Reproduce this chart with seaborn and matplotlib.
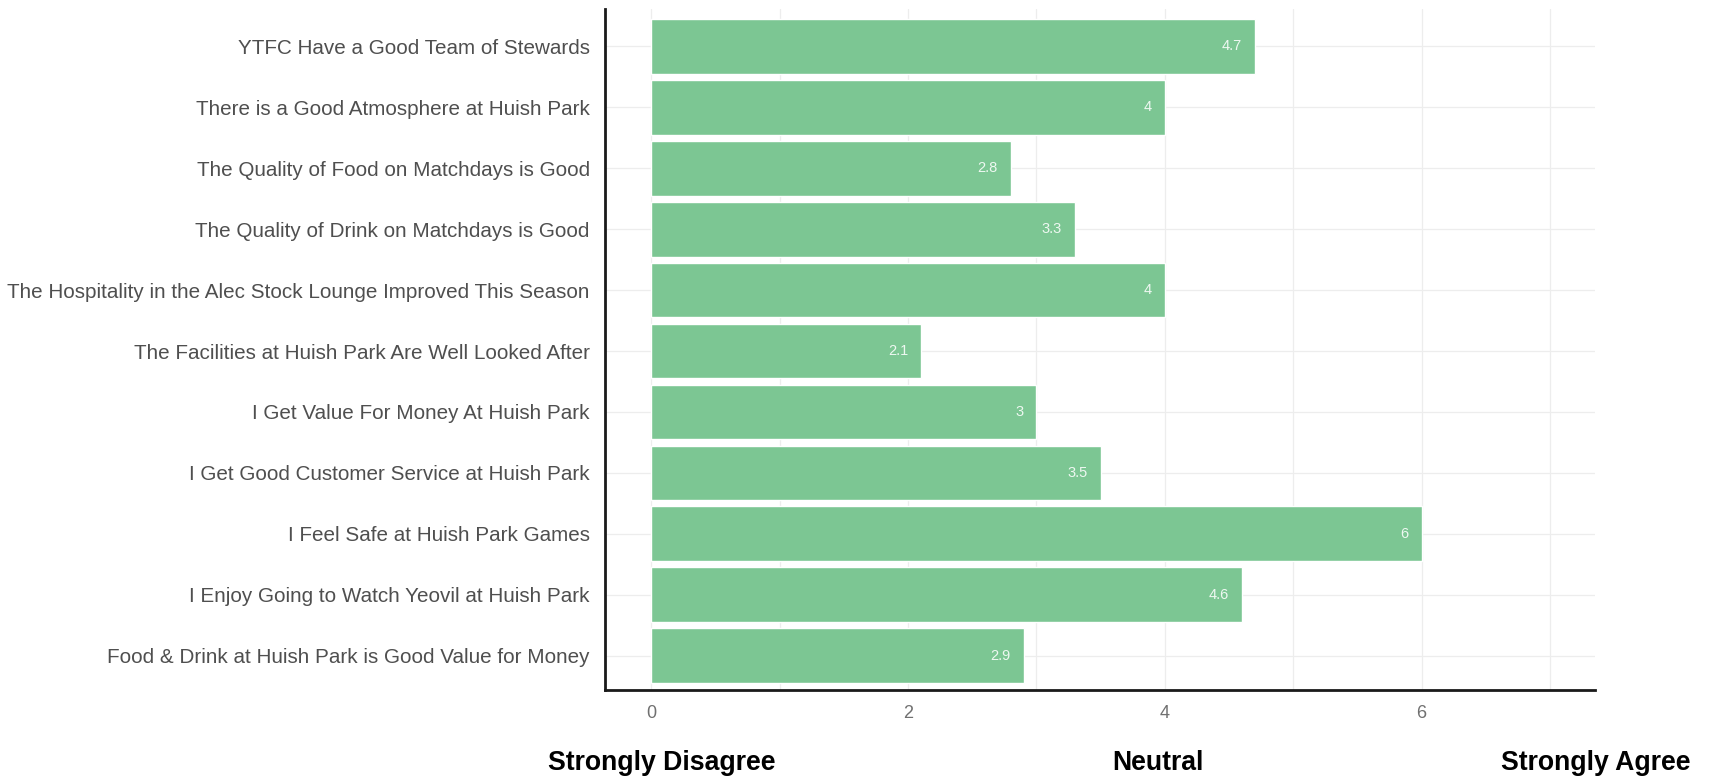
import matplotlib
matplotlib.use("Agg")
import matplotlib.pyplot as plt
import seaborn as sns
import pandas as pd
import numpy as np

categories = [
    "YTFC Have a Good Team of Stewards",
    "There is a Good Atmosphere at Huish Park",
    "The Quality of Food on Matchdays is Good",
    "The Quality of Drink on Matchdays is Good",
    "The Hospitality in the Alec Stock Lounge Improved This Season",
    "The Facilities at Huish Park Are Well Looked After",
    "I Get Value For Money At Huish Park",
    "I Get Good Customer Service at Huish Park",
    "I Feel Safe at Huish Park Games",
    "I Enjoy Going to Watch Yeovil at Huish Park",
    "Food & Drink at Huish Park is Good Value for Money",
]
scores = [4.7, 4.0, 2.8, 3.3, 4.0, 2.1, 3.0, 3.5, 6.0, 4.6, 2.9]
x_ticks = [0, 2, 4, 6]
scale_labels = ["Strongly Disagree", "Neutral", "Strongly Agree"]

df = pd.DataFrame({"statement": categories, "score": scores})

sns.set_theme(style="white")
plt.rcParams["font.family"] = ["Liberation Sans", "DejaVu Sans"]

fig = plt.figure(figsize=(17.16, 7.77), dpi=100)
ax = fig.add_axes([605 / 1716, 1 - 690 / 777, (1595 - 605) / 1716, (690 - 9) / 777])

sns.barplot(data=df, x="score", y="statement", orient="h", color="#7CC693",
            saturation=1, width=0.9, ax=ax, zorder=3)

ax.set_xlim(-0.36, 7.35)
ax.set_ylim(len(categories) - 0.44, -0.61)

# grid
for xv in range(0, 8):
    ax.axvline(xv, color="#ededed", lw=0.9, zorder=0)
for i in range(len(categories)):
    ax.axhline(i, color="#ededed", lw=0.9, zorder=0)

for i, v in enumerate(scores):
    ax.text(v - 0.1, i, f"{v:g}", ha="right", va="center", color="#eef8f1",
            fontsize=10.5, zorder=4)

ax.set_xticks(x_ticks)
ax.set_xticklabels([str(t) for t in x_ticks], color="#707070", fontsize=13)
ax.tick_params(axis="x", length=0, pad=11)
ax.tick_params(axis="y", length=0, pad=11, labelsize=14.9, labelcolor="#4f4f4f")
ax.set_xlabel("")
ax.set_ylabel("")

for s in ["top", "right"]:
    ax.spines[s].set_visible(False)
for s in ["left", "bottom"]:
    ax.spines[s].set_color("#1a1a1a")
    ax.spines[s].set_linewidth(2)

xs = [662 / 1716, 1158 / 1716, 1596 / 1716]
for xp, lab in zip(xs, scale_labels):
    fig.text(xp, 1 - 763 / 777, lab, ha="center", va="center",
             fontsize=19.2, fontweight="bold", color="black")

fig.savefig("out.png", dpi=100)
